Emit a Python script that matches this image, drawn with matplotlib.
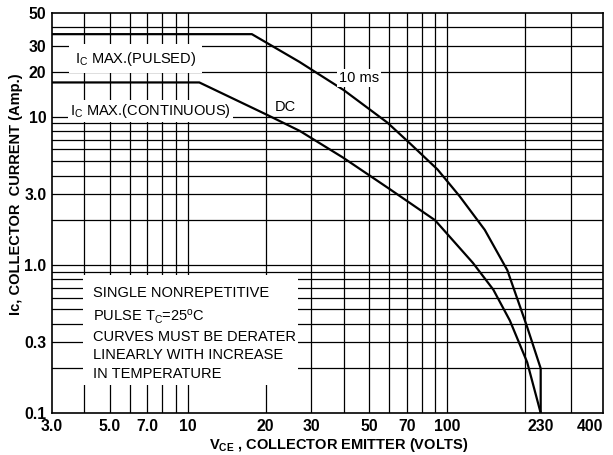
import numpy as np
import matplotlib.pyplot as plt
from matplotlib.patches import Rectangle

plt.rcParams['font.family'] = ['Liberation Sans', 'DejaVu Sans']
plt.rcParams['mathtext.default'] = 'regular'

# safe operating area curves
pulsed_v = [3, 17.7, 27, 40, 59, 72, 92, 112, 140, 171, 204, 230, 230]
pulsed_i = [36, 36, 23.4, 15.1, 9.1, 6.6, 4.4, 2.9, 1.72, 0.92, 0.38, 0.2, 0.1]
dc_v = [3, 11.1, 20.2, 27.1, 39.7, 59.3, 90, 126, 151, 175, 204, 230]
dc_i = [17, 17, 10.3, 8.0, 5.3, 3.3, 2.0, 1.03, 0.68, 0.42, 0.22, 0.1]

x_ticks = [3, 5, 7, 10, 20, 30, 50, 70, 100, 230, 400]
x_labels = ["3.0", "5.0", "7.0", "10", "20", "30", "50", "70", "100", "230", "400"]
y_ticks = [0.1, 0.3, 1.0, 3.0, 10, 20, 30, 50]
y_labels = ["0.1", "0.3", "1.0", "3.0", "10", "20", "30", "50"]

fig = plt.figure(figsize=(6.13, 4.55), dpi=100)
ax = fig.add_axes([0.0848, 0.0923, 0.8989, 0.8791])
ax.set_xscale('log')
ax.set_yscale('log')
ax.set_xlim(3, 400)
ax.set_ylim(0.1, 50)

# log grid, drawn by hand so there is no line at 230
for d in [0.1, 1, 10, 100]:
    for m in range(1, 10):
        v = m * d
        if 3 < v < 400:
            ax.axvline(v, color='black', lw=0.9, zorder=1)
        if 0.1 < v < 50:
            ax.axhline(v, color='black', lw=0.9, zorder=1)

ax.plot(pulsed_v, pulsed_i, color='black', lw=1.6, zorder=3)
ax.plot(dc_v, dc_i, color='black', lw=1.6, zorder=3)

ax.set_xticks(x_ticks)
ax.set_xticklabels(x_labels)
ax.set_yticks(y_ticks)
ax.set_yticklabels(y_labels)
ax.minorticks_off()
ax.tick_params(length=0, pad=4, labelsize=11.3)
for lab in ax.get_xticklabels() + ax.get_yticklabels():
    lab.set_fontweight('bold')
ax.get_xticklabels()[-1].set_horizontalalignment('right')
for s in ax.spines.values():
    s.set_linewidth(1.2)

ax.set_xlabel("V$_{CE}$ , COLLECTOR EMITTER (VOLTS)", fontsize=10.5,
              fontweight='bold')
ax.set_ylabel("Ic, COLLECTOR  CURRENT (Amp.)", fontsize=10.5,
              fontweight='bold', family=['Liberation Sans Narrow', 'Liberation Sans'])
ax.yaxis.set_label_coords(-0.053, 0.548)
ax.xaxis.set_label_coords(0.52, -0.058)

lab_box = dict(facecolor='white', edgecolor='none', pad=1.5)
ax.text(6.3, 24.5, "I$_C$ MAX.(PULSED)", fontsize=10.5, ha='center', va='center',
        bbox=dict(facecolor='white', edgecolor='none', pad=4), zorder=4)
ax.text(7.2, 10.9, "I$_C$ MAX.(CONTINUOUS)", fontsize=10.5, ha='center', va='center',
        bbox=lab_box, zorder=4)
ax.text(23.8, 11.6, "DC", fontsize=10.5, ha='center', va='center',
        bbox=lab_box, zorder=4)
ax.text(45.8, 18.2, "10 ms", fontsize=10.5, ha='center', va='center',
        bbox=lab_box, zorder=4)

# note box
ax.add_patch(Rectangle((0.0563, 0.07), 0.39, 0.275, transform=ax.transAxes,
                       facecolor='white', edgecolor='none', zorder=2))
note = ["SINGLE NONREPETITIVE",
        "PULSE T$_C$=25$^o$C",
        "CURVES MUST BE DERATER",
        "LINEARLY WITH INCREASE",
        "IN TEMPERATURE"]
note_y = [0.30, 0.24, 0.19, 0.145, 0.0975]
for line, yy in zip(note, note_y):
    ax.text(0.075, yy, line, transform=ax.transAxes,
            fontsize=10.5, ha='left', va='center', zorder=4)

fig.savefig("out.png", dpi=100)
